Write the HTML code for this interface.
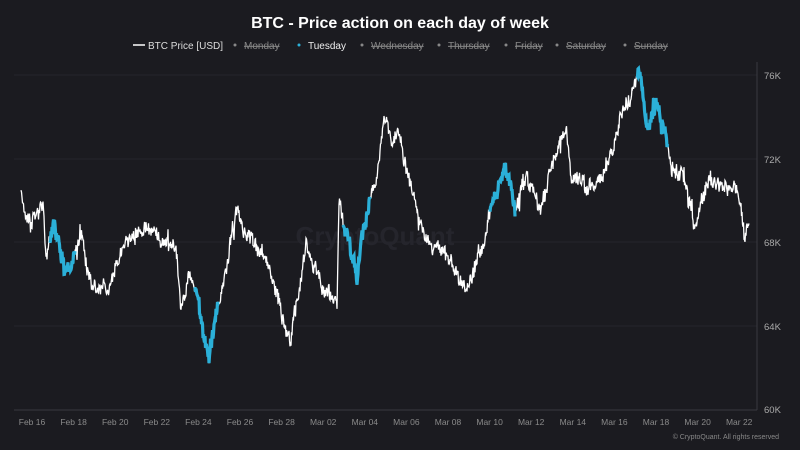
<!DOCTYPE html>
<html><head><meta charset="utf-8"><style>
html,body{margin:0;padding:0;background:#1b1b20;width:800px;height:450px;overflow:hidden;font-family:"Liberation Sans",sans-serif}
</style></head><body>
<svg id="s" width="800" height="450" xmlns="http://www.w3.org/2000/svg">
<rect width="800" height="450" fill="#1b1b20"/>
<text x="400" y="28" fill="#fff" font-size="16" font-weight="bold" text-anchor="middle">BTC - Price action on each day of week</text>
<g font-size="10" fill="#888">
<line x1="133" y1="45" x2="145" y2="45" stroke="#fff" stroke-width="1.5"/>
<text x="148" y="49" fill="#ddd">BTC Price [USD]</text>
<circle cx="235" cy="45" r="1.5" fill="#888"/><text x="244" y="49" text-decoration="line-through">Monday</text>
<circle cx="299" cy="45" r="1.5" fill="#2bb0d8"/><text x="308" y="49" fill="#eee">Tuesday</text>
<circle cx="362" cy="45" r="1.5" fill="#888"/><text x="371" y="49" text-decoration="line-through">Wednesday</text>
<circle cx="439" cy="45" r="1.5" fill="#888"/><text x="448" y="49" text-decoration="line-through">Thursday</text>
<circle cx="506" cy="45" r="1.5" fill="#888"/><text x="515" y="49" text-decoration="line-through">Friday</text>
<circle cx="557" cy="45" r="1.5" fill="#888"/><text x="566" y="49" text-decoration="line-through">Saturday</text>
<circle cx="625" cy="45" r="1.5" fill="#888"/><text x="634" y="49" text-decoration="line-through">Sunday</text>
</g>
<g stroke="#25252b" stroke-width="1">
<line x1="14" y1="75" x2="757" y2="75"/><line x1="14" y1="159" x2="757" y2="159"/>
<line x1="14" y1="242" x2="757" y2="242"/><line x1="14" y1="326" x2="757" y2="326"/>
</g>
<line x1="14" y1="410" x2="757" y2="410" stroke="#3a3a40" stroke-width="1"/>
<line x1="757" y1="62" x2="757" y2="410" stroke="#3a3a40" stroke-width="1"/>
<g fill="#aaa" font-size="9.5">
<text x="764" y="79">76K</text><text x="764" y="163">72K</text><text x="764" y="246">68K</text><text x="764" y="330">64K</text><text x="764" y="413">60K</text>
</g>
<text x="375" y="245" fill="#25252c" font-size="26" font-weight="bold" text-anchor="middle">CryptoQuant</text>
<g id="ax" fill="#8a8a8a" font-size="8.5" text-anchor="middle"></g>
<text x="779" y="439" fill="#888" font-size="7" text-anchor="end">© CryptoQuant. All rights reserved</text>
<g id="lines"></g>
</svg>
<script>
var labels=["Feb 16","Feb 18","Feb 20","Feb 22","Feb 24","Feb 26","Feb 28","Mar 02","Mar 04","Mar 06","Mar 08","Mar 10","Mar 12","Mar 14","Mar 16","Mar 18","Mar 20","Mar 22"];
var ax=document.getElementById('ax'),h='';
labels.forEach(function(l,i){h+='<text x="'+(32+i*41.6).toFixed(1)+'" y="425">'+l+'</text>';});
ax.innerHTML=h;
var K=[[21,196],[25,223],[43,202],[46,257],[54,218],[66,272],[82,237],[92,287],[107,290],[125,240],[153,230],[176,250],[181,317],[189,277],[199,307],[209,357],[217,310],[224,280],[237,205],[245,233],[270,267],[278,300],[291,343],[306,242],[321,287],[337,300],[339,202],[357,280],[363,223],[375,193],[384,118],[393,147],[398,130],[408,177],[423,233],[449,260],[469,290],[482,243],[505,163],[515,210],[526,177],[538,213],[566,122],[571,173],[587,190],[607,167],[622,113],[640,75],[648,127],[656,100],[663,120],[673,170],[684,180],[694,223],[709,177],[724,187],[737,183],[745,235],[749,220]];
var seed=11;function r(){seed=(seed*16807)%2147483647;return seed/2147483647;}
var pts=[],k=0,n=0;
for(var x=21;x<=749;x+=0.5){while(k<K.length-2&&x>K[k+1][0])k++;var a=K[k],b=K[k+1];var t=(x-a[0])/(b[0]-a[0]);n=0.85*n+(r()-0.5)*7;var sp=(r()<0.05)?(r()-0.5)*24:0;var y=a[1]+(b[1]-a[1])*t+n+(r()-0.5)*12+sp;pts.push([x,y]);}
function path(p){return p.map(function(q,i){return (i?'L':'M')+q[0].toFixed(1)+' '+q[1].toFixed(1);}).join('');}
var out='<path d="'+path(pts)+'" fill="none" stroke="#fff" stroke-width="1.3"/>';
[[50,75],[195,218],[343,370],[490,515],[637,668]].forEach(function(s){
 var sub=pts.filter(function(q){return q[0]>=s[0]&&q[0]<=s[1];});
 out+='<path d="'+path(sub)+'" fill="none" stroke="#2bb0d8" stroke-width="3.2"/>';
});
document.getElementById('lines').innerHTML=out;
</script>
</body></html>
